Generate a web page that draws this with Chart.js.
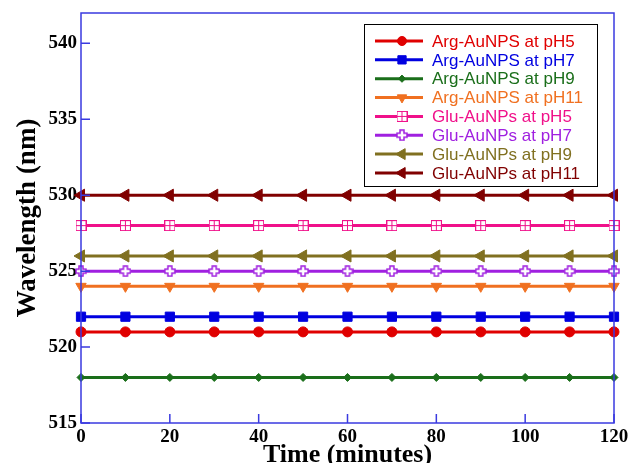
<!DOCTYPE html>
<html>
<head>
<meta charset="utf-8">
<script src="https://cdn.jsdelivr.net/npm/chart.js@4/dist/chart.umd.min.js"></script>
<style>
  html, body { margin: 0; padding: 0; background: #fff; }
  #wrap { width: 630px; height: 463px; }
</style>
</head>
<body>
<div id="wrap"><canvas id="c" width="630" height="463"></canvas></div>
<script>
// time points (minutes)
const times = [0, 10, 20, 30, 40, 50, 60, 70, 80, 90, 100, 110, 120];
const xTicks = [0, 20, 40, 60, 80, 100, 120];
const yTicks = [515, 520, 525, 530, 535, 540];

const labels = [
  'Arg-AuNPS at pH5', 'Arg-AuNPS at pH7', 'Arg-AuNPS at pH9', 'Arg-AuNPS at pH11',
  'Glu-AuNPs at pH5', 'Glu-AuNPs at pH7', 'Glu-AuNPs at pH9', 'Glu-AuNPs at pH11'
];
// wavelength readings (nm), one per time point
const argPH5  = [521, 521, 521, 521, 521, 521, 521, 521, 521, 521, 521, 521, 521];
const argPH7  = [522, 522, 522, 522, 522, 522, 522, 522, 522, 522, 522, 522, 522];
const argPH9  = [518, 518, 518, 518, 518, 518, 518, 518, 518, 518, 518, 518, 518];
const argPH11 = [524, 524, 524, 524, 524, 524, 524, 524, 524, 524, 524, 524, 524];
const gluPH5  = [528, 528, 528, 528, 528, 528, 528, 528, 528, 528, 528, 528, 528];
const gluPH7  = [525, 525, 525, 525, 525, 525, 525, 525, 525, 525, 525, 525, 525];
const gluPH9  = [526, 526, 526, 526, 526, 526, 526, 526, 526, 526, 526, 526, 526];
const gluPH11 = [530, 530, 530, 530, 530, 530, 530, 530, 530, 530, 530, 530, 530];

const series = [argPH5, argPH7, argPH9, argPH11, gluPH5, gluPH7, gluPH9, gluPH11];
const colors = ['#e00000', '#0000e0', '#1a6e1a', '#f07020', '#f0108a', '#a020e0', '#807020', '#800000'];

// custom markers: boxed grid and hollow plus
function gridBox(color) {
  const c = document.createElement('canvas');
  c.width = 11; c.height = 11;
  const g = c.getContext('2d');
  g.fillStyle = '#fff';
  g.fillRect(0.5, 0.5, 10, 10);
  g.strokeStyle = color; g.lineWidth = 1;
  g.strokeRect(0.5, 0.5, 10, 10);
  g.beginPath();
  g.moveTo(5.5, 0.5); g.lineTo(5.5, 10.5);
  g.moveTo(0.5, 5.5); g.lineTo(10.5, 5.5);
  g.stroke();
  return c;
}
function hollowPlus(color) {
  const c = document.createElement('canvas');
  c.width = 12; c.height = 12;
  const g = c.getContext('2d');
  g.beginPath();
  g.moveTo(4, 1); g.lineTo(8, 1); g.lineTo(8, 4); g.lineTo(11, 4); g.lineTo(11, 8);
  g.lineTo(8, 8); g.lineTo(8, 11); g.lineTo(4, 11); g.lineTo(4, 8); g.lineTo(1, 8);
  g.lineTo(1, 4); g.lineTo(4, 4); g.closePath();
  g.fillStyle = '#fff'; g.fill();
  g.strokeStyle = color; g.lineWidth = 1.5; g.stroke();
  return c;
}

const markers = [
  { pointStyle: 'circle', radius: 5, rotation: 0 },
  { pointStyle: 'rect', radius: 6.5, rotation: 0 },
  { pointStyle: 'rectRot', radius: 4, rotation: 0 },
  { pointStyle: 'triangle', radius: 6, rotation: 180 },
  { pointStyle: gridBox(colors[4]), radius: 5, rotation: 0 },
  { pointStyle: hollowPlus(colors[5]), radius: 5, rotation: 0 },
  { pointStyle: 'triangle', radius: 7, rotation: 270 },
  { pointStyle: 'triangle', radius: 7, rotation: 270 }
];

const datasets = series.map((s, i) => ({
  label: labels[i],
  data: s.map((v, j) => ({ x: times[j], y: v })),
  borderColor: colors[i],
  backgroundColor: colors[i],
  borderWidth: 3,
  pointStyle: markers[i].pointStyle,
  pointRadius: markers[i].radius,
  pointRotation: markers[i].rotation,
  pointBorderWidth: 1,
  clip: false
}));

const axisBlue = '#3a3ae0';
const serif = '"Liberation Serif", "Times New Roman", serif';

const framePlugin = {
  id: 'frame',
  afterDraw(chart) {
    const { ctx, chartArea: a, scales } = chart;
    ctx.save();
    ctx.strokeStyle = axisBlue;
    ctx.lineWidth = 1.5;
    ctx.strokeRect(a.left, a.top, a.right - a.left, a.bottom - a.top);
    ctx.beginPath();
    yTicks.forEach(v => {
      const y = scales.y.getPixelForValue(v);
      ctx.moveTo(a.left, y); ctx.lineTo(a.left + 9, y);
    });
    xTicks.forEach(v => {
      const x = scales.x.getPixelForValue(v);
      ctx.moveTo(x, a.bottom); ctx.lineTo(x, a.bottom - 9);
    });
    ctx.stroke();

    // legend box with line samples
    const bx = 364, by = 24, bw = 233, bh = 162;
    ctx.fillStyle = '#fff';
    ctx.fillRect(bx, by, bw, bh);
    ctx.strokeStyle = '#000';
    ctx.lineWidth = 1;
    ctx.strokeRect(bx + 0.5, by + 0.5, bw, bh);
    ctx.font = '17px "Liberation Sans", Arial, sans-serif';
    ctx.textBaseline = 'middle';
    labels.forEach((lab, i) => {
      const y = 41 + i * 18.85;
      ctx.strokeStyle = colors[i];
      ctx.fillStyle = colors[i];
      ctx.lineWidth = 3;
      ctx.beginPath(); ctx.moveTo(375, y); ctx.lineTo(423, y); ctx.stroke();
      ctx.lineWidth = 1;
      Chart.helpers.drawPoint(ctx, {
        pointStyle: markers[i].pointStyle,
        radius: markers[i].radius * 0.9,
        rotation: markers[i].rotation,
        borderWidth: 1
      }, 402, y);
      ctx.fillStyle = colors[i];
      ctx.fillText(lab, 432, y + 1);
    });
    ctx.restore();
  }
};

new Chart(document.getElementById('c'), {
  type: 'line',
  data: { datasets },
  options: {
    responsive: false,
    animation: false,
    layout: { padding: { left: 0, right: 16, top: 13, bottom: 0 } },
    plugins: { legend: { display: false }, tooltip: { enabled: false } },
    scales: {
      x: {
        type: 'linear', min: 0, max: 120,
        afterBuildTicks: s => { s.ticks = xTicks.map(v => ({ value: v })); },
        afterFit: s => { s.height = 40; s.paddingLeft = 0; s.paddingRight = 0; },
        grid: { display: false, drawTicks: false },
        border: { display: false },
        ticks: { color: '#000', padding: 3, maxRotation: 0,
          font: { family: serif, size: 19, weight: 'bold' } },
        title: { display: true, text: 'Time (minutes)', color: '#000', padding: { top: 0, bottom: -8 },
          font: { family: serif, size: 26, weight: 'bold' } }
      },
      y: {
        type: 'linear', min: 515, max: 542,
        afterBuildTicks: s => { s.ticks = yTicks.map(v => ({ value: v })); },
        afterFit: s => { s.width = 81; s.paddingTop = 0; s.paddingBottom = 0; },
        grid: { display: false, drawTicks: false },
        border: { display: false },
        ticks: { color: '#000', padding: 4,
          font: { family: serif, size: 19, weight: 'bold' } },
        title: { display: true, text: 'Wavelength (nm)', color: '#000', padding: { top: 12, bottom: 0 },
          font: { family: serif, size: 27, weight: 'bold' } }
      }
    }
  },
  plugins: [framePlugin]
});
</script>
</body>
</html>
